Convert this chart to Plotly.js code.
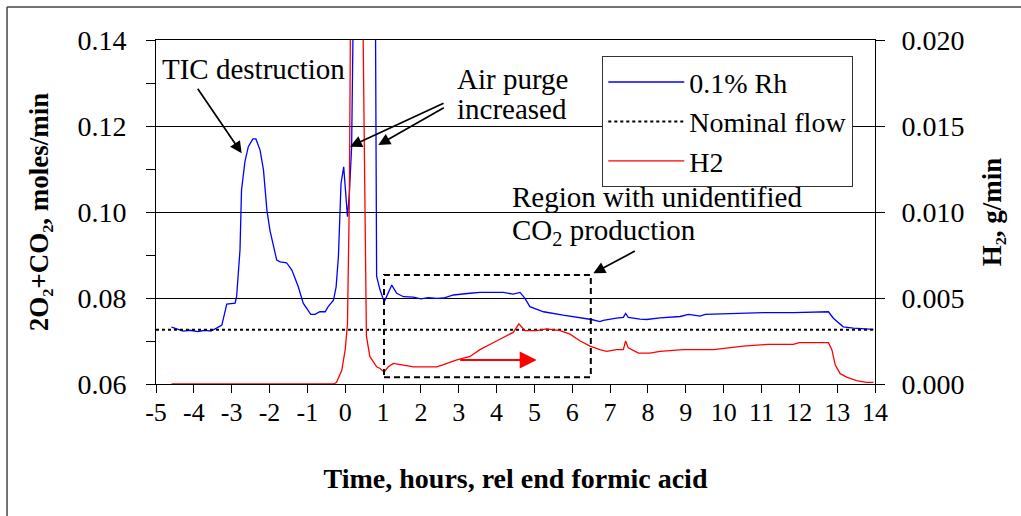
<!DOCTYPE html>
<html><head><meta charset="utf-8">
<script src="https://cdn.plot.ly/plotly-3.0.1.min.js"></script>
<style>html,body{margin:0;padding:0;background:#fff;} #chart{width:1021px;height:516px;}</style>
</head><body><div id="chart"></div>
<script>
// Time, hours relative to end of formic acid
const rhTime = [-4.59,-4.45,-4.28,-4.10,-3.90,-3.70,-3.55,-3.40,-3.26,-3.13,-2.91,-2.87,-2.78,-2.74,-2.65,-2.56,-2.44,-2.36,-2.25,-2.16,-2.07,-1.99,-1.81,-1.72,-1.55,-1.41,-1.24,-1.11,-0.91,-0.80,-0.67,-0.53,-0.45,-0.31,-0.24,-0.18,-0.14,-0.11,-0.04,0.06,0.11,0.17,0.21,0.30,0.70,0.80,0.83,0.92,1.03,1.11,1.23,1.36,1.54,1.80,2.00,2.20,2.42,2.60,2.86,3.30,3.56,4.18,4.44,4.62,4.75,4.88,5.24,5.76,6.29,6.51,6.73,6.82,7.17,7.35,7.41,7.48,7.79,7.97,8.32,8.85,9.07,9.38,9.51,10.17,10.61,11.05,11.84,12.20,12.46,12.77,12.90,13.16,13.43,13.96];
// 2O2+CO2, moles/min (0.1% Rh)
const rhValue = [0.0732,0.0728,0.0723,0.0725,0.0722,0.0725,0.0723,0.0730,0.0737,0.0786,0.0788,0.0803,0.0912,0.1051,0.1117,0.1152,0.1170,0.1170,0.1144,0.1098,0.1005,0.0958,0.0888,0.0884,0.0882,0.0865,0.0826,0.0788,0.0762,0.0762,0.0768,0.0768,0.0780,0.0795,0.0826,0.0896,0.0989,0.1067,0.1105,0.0989,0.1043,0.1152,0.1450,0.2000,0.2000,0.1450,0.0850,0.0819,0.0791,0.0807,0.0830,0.0811,0.0803,0.0802,0.0798,0.0801,0.0799,0.0800,0.0807,0.0811,0.0813,0.0813,0.0809,0.0813,0.0799,0.0780,0.0768,0.0760,0.0753,0.0750,0.0745,0.0748,0.0753,0.0755,0.0764,0.0755,0.0751,0.0750,0.0754,0.0757,0.0762,0.0758,0.0762,0.0764,0.0764,0.0766,0.0766,0.0767,0.0768,0.0768,0.0753,0.0733,0.0730,0.0727];
const h2Time = [-4.59,-0.30,-0.23,-0.09,0.00,0.06,0.11,0.15,0.45,0.52,0.56,0.65,0.83,0.92,1.03,1.14,1.27,1.54,1.80,2.10,2.42,2.56,2.95,3.30,3.56,4.00,4.44,4.59,4.75,5.06,5.32,5.68,5.94,6.21,6.47,6.73,6.91,7.17,7.35,7.41,7.48,7.75,8.05,8.32,8.93,9.73,10.52,11.14,11.84,12.00,12.20,12.77,12.86,12.95,13.08,13.25,13.51,13.78,13.96];
// H2, g/min
const h2Value = [0,0,0.0001,0.0008,0.0020,0.0035,0.0109,0.0250,0.0250,0.0090,0.0028,0.0016,0.0010,0.0009,0.0007,0.0010,0.0012,0.0011,0.0010,0.0010,0.0010,0.0011,0.0014,0.0016,0.0020,0.0025,0.0030,0.0035,0.0031,0.0031,0.0032,0.0031,0.0029,0.0025,0.0022,0.0020,0.0019,0.0020,0.0020,0.0025,0.0021,0.0018,0.0018,0.0019,0.0020,0.0020,0.0022,0.0023,0.0023,0.0024,0.0024,0.0024,0.0020,0.0011,0.0006,0.0004,0.0002,0.0001,0.0001];
const nominalTime = [-5, 14];
const nominalValue = [0.0726, 0.0726];
const seriesNames = ['0.1% Rh', 'Nominal flow', 'H2'];
const xTickValues = [-5,-4,-3,-2,-1,0,1,2,3,4,5,6,7,8,9,10,11,12,13,14];
const xTickLabels = ['-5','-4','-3','-2','-1','0','1','2','3','4','5','6','7','8','9','10','11','12','13','14'];

const FONT = 'Liberation Serif, Times New Roman, serif';

const traces = [
  {x: rhTime, y: rhValue, name: seriesNames[0], type: 'scatter', mode: 'lines',
   line: {color: '#0000FF', width: 1.3}, yaxis: 'y', legendgroup: 'a'},
  {x: nominalTime, y: nominalValue, name: seriesNames[1], type: 'scatter', mode: 'lines',
   line: {color: '#000000', width: 2, dash: 'dot'}, yaxis: 'y', legendgroup: 'b'},
  {x: h2Time, y: h2Value, name: seriesNames[2], type: 'scatter', mode: 'lines',
   line: {color: '#FF0000', width: 1.3}, yaxis: 'y2', legendgroup: 'c'}
];

const arrowStyle = {showarrow: true, text: '', arrowhead: 2, arrowsize: 1.4, arrowwidth: 1.7, arrowcolor: '#000'};
const txt = (text, x, y, xanchor) => ({text, x, y, xref: 'x', yref: 'y', showarrow: false,
  xanchor, yanchor: 'middle', font: {family: FONT, size: 29, color: '#000'}});

const layout = {
  width: 1021, height: 516,
  margin: {l: 156, r: 146, t: 40, b: 132, pad: 0},
  paper_bgcolor: '#fff', plot_bgcolor: '#fff',
  font: {family: FONT, size: 28, color: '#000'},
  showlegend: true,
  legend: {x: 0.6203, y: 0.9535, xanchor: 'left', yanchor: 'top', bgcolor: '#fff',
           bordercolor: '#333', borderwidth: 1.3, font: {family: FONT, size: 28, color: '#000'},
           itemwidth: 76, tracegroupgap: 0},
  xaxis: {range: [-5, 14], tickmode: 'array', tickvals: xTickValues, ticktext: xTickLabels,
          ticks: 'outside', ticklen: 8,
          tickcolor: '#000', showline: true, linecolor: '#000', linewidth: 1, mirror: true,
          showgrid: false, zeroline: false, tickfont: {size: 26}, ticklabelstandoff: -3,
          title: {text: '<b>Time, hours, rel end formic acid</b>', font: {size: 28}, standoff: 42}},
  yaxis: {range: [0.06, 0.14], tick0: 0.06, dtick: 0.02, tickformat: '.2f', ticks: 'outside', ticklen: 9,
          tickcolor: '#000', minor: {dtick: 0.01, ticks: 'outside', ticklen: 9, tickcolor: '#000', showgrid: false},
          showgrid: true, gridcolor: '#000', gridwidth: 1, showline: true, linecolor: '#000',
          zeroline: false, tickfont: {size: 28}, ticklabelstandoff: 14,
          title: {text: '<b>2O₂+CO₂, moles/min</b>', font: {size: 27}, standoff: 20}},
  yaxis2: {overlaying: 'y', side: 'right', range: [0, 0.02], tick0: 0, dtick: 0.005, tickformat: '.3f',
           ticks: 'outside', ticklen: 9, tickcolor: '#000', showline: true, linecolor: '#000',
           showgrid: false, zeroline: false, tickfont: {size: 28}, ticklabelstandoff: 11,
           title: {text: '<b>H₂, g/min</b>', font: {size: 27}, standoff: 18}},
  shapes: [
    {type: 'rect', xref: 'x', yref: 'y', x0: 1.025, x1: 6.49, y0: 0.06156, y1: 0.08535,
     line: {color: '#000', width: 2, dash: '6px,4px'}},
    {type: 'line', xref: 'paper', yref: 'paper', x0: -0.2072, x1: 1.21, y0: 1.0959, y1: 1.0959,
     line: {color: '#444', width: 1.5}},
    {type: 'line', xref: 'paper', yref: 'paper', x0: -0.2072, x1: -0.2072, y0: 1.0959, y1: -0.39,
     line: {color: '#444', width: 1.5}}
  ],
  annotations: [
    txt('TIC destruction', -2.43, 0.13326, 'center'),
    Object.assign({x: -2.735, y: 0.11365, xref: 'x', yref: 'y', ax: -45, ay: -66}, arrowStyle),
    txt('Air purge', 2.902, 0.13093, 'left'),
    txt('increased', 2.902, 0.12395, 'left'),
    Object.assign({x: 0.127, y: 0.1152, xref: 'x', yref: 'y', ax: 95, ay: -44}, arrowStyle),
    Object.assign({x: 0.875, y: 0.11558, xref: 'x', yref: 'y', ax: 67, ay: -38}, arrowStyle),
    txt('Region with unidentified', 4.355, 0.10349, 'left'),
    txt('CO<sub>2</sub> production', 4.355, 0.09535, 'left'),
    Object.assign({x: 6.557, y: 0.08574, xref: 'x', yref: 'y', ax: 43, ay: -23}, arrowStyle),
    {x: 5.06, y: 0.0014, xref: 'x', yref: 'y2', ax: -78, ay: 0, showarrow: true, text: '',
     arrowhead: 2, arrowsize: 1.7, arrowwidth: 2, arrowcolor: '#FF0000'}
  ]
};

Plotly.newPlot('chart', traces, layout, {staticPlot: true, displayModeBar: false});
</script>
</body></html>
